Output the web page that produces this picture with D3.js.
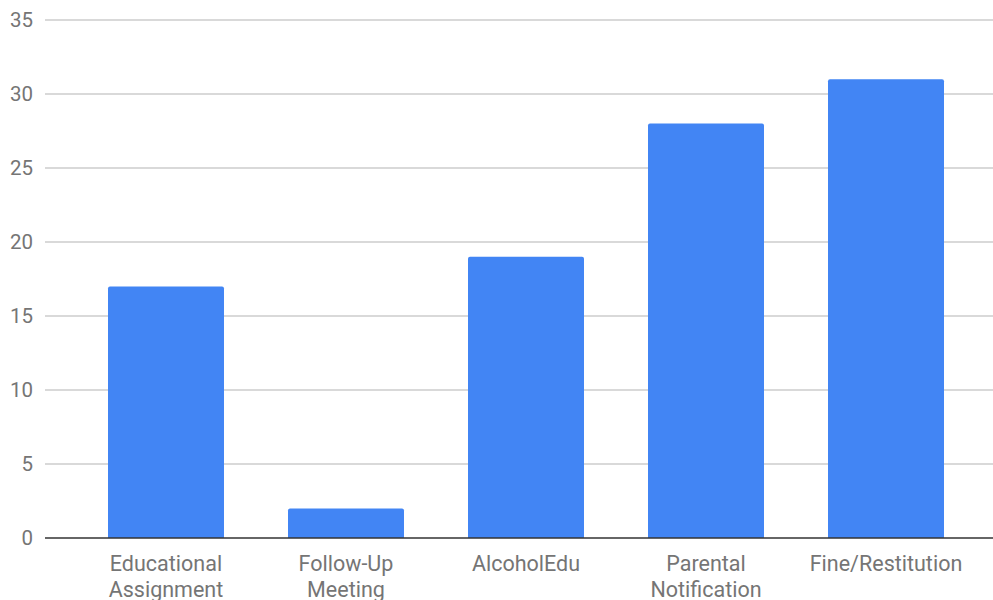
<!DOCTYPE html>
<html><head><meta charset="utf-8">
<script src="https://cdn.jsdelivr.net/npm/d3@7"></script>
<style>body{margin:0;background:#fff}svg{display:block}text{font-family:Roboto,sans-serif}</style>
</head><body><svg id="c" width="993" height="600"></svg>
<script>
const categories = ["Educational Assignment", "Follow-Up Meeting", "AlcoholEdu", "Parental Notification", "Fine/Restitution"];
const values = [17, 2, 19, 28, 31];
const yTicks = [0, 5, 10, 15, 20, 25, 30, 35];

const svg = d3.select("#c");
const W = 993;
const x = d3.scaleBand().domain(categories).range([45, 1007]).paddingInner(0.3556).paddingOuter(0.35);
const y = d3.scaleLinear().domain([0, 35]).range([538, 20]);

// gridlines
svg.append("g").selectAll("line").data(yTicks.filter(d => d > 0)).join("line")
  .attr("x1", 45).attr("x2", W).attr("y1", d => y(d)).attr("y2", d => y(d))
  .attr("stroke", "#cccccc").attr("stroke-width", 1.3);

// y labels
const yAxis = d3.axisLeft(y).tickValues(yTicks).tickSize(0).tickPadding(0);
const gy = svg.append("g").attr("transform", "translate(33,0)").call(yAxis);
gy.select(".domain").remove();
gy.selectAll("text").attr("font-size", 20.5).attr("fill", "#757575").attr("font-family", "Roboto, sans-serif");

// bars
svg.append("g").selectAll("path").data(values).join("path")
  .attr("fill", "#4285F4")
  .attr("d", (d, i) => {
    const x0 = x(categories[i]), w = x.bandwidth(), y0 = y(d), y1 = y(0), r = 2;
    return `M${x0},${y1}V${y0 + r}Q${x0},${y0} ${x0 + r},${y0}H${x0 + w - r}Q${x0 + w},${y0} ${x0 + w},${y0 + r}V${y1}Z`;
  });

// baseline
svg.append("line").attr("x1", 45).attr("x2", W).attr("y1", y(0)).attr("y2", y(0))
  .attr("stroke", "#333").attr("stroke-width", 1.5);

// x labels
const gx = svg.append("g");
categories.forEach(c => {
  const words = c.split(" ");
  const t = gx.append("text").attr("text-anchor", "middle").attr("font-size", 21.5).attr("fill", "#757575")
    .attr("x", x(c) + x.bandwidth() / 2).attr("y", 571);
  words.forEach((w, j) => t.append("tspan").attr("x", x(c) + x.bandwidth() / 2).attr("dy", j ? 26 : 0).text(w));
});
</script></body></html>
